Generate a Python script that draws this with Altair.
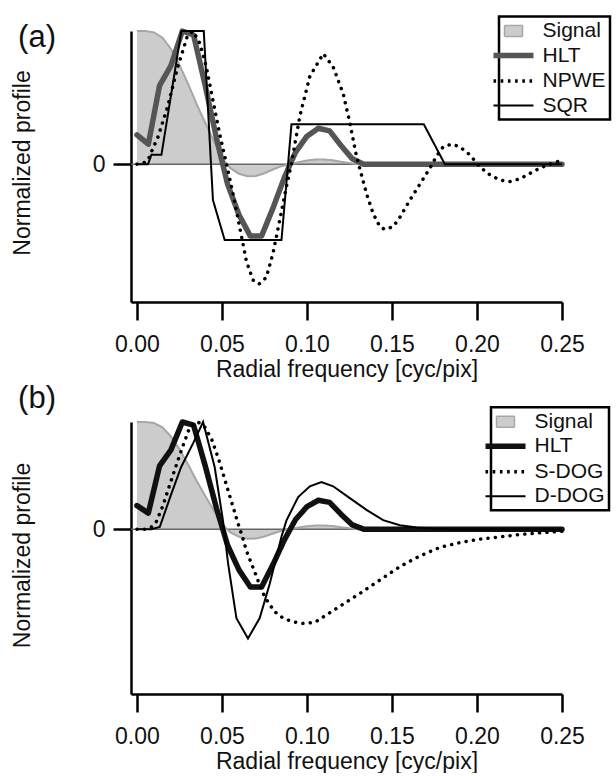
import altair as alt
import pandas as pd

FONT = "Liberation Sans"
INK = "#111111"

# ---------------- data ----------------
FREQ_TICKS = [0.00, 0.05, 0.10, 0.15, 0.20, 0.25]
Y_TICKS = [0]

SIGNAL_F = [0.000, 0.005, 0.010, 0.015, 0.020, 0.025, 0.030, 0.035, 0.040, 0.045,
            0.050, 0.055, 0.060, 0.065, 0.070, 0.075, 0.080, 0.085, 0.090, 0.095,
            0.100, 0.105, 0.110, 0.115, 0.120, 0.125, 0.130, 0.250]
SIGNAL_V = [1.000, 1.000, 0.990, 0.950, 0.865, 0.745, 0.605, 0.455, 0.315, 0.180,
            0.045, -0.030, -0.072, -0.090, -0.088, -0.068, -0.040, -0.015, 0.000, 0.015,
            0.028, 0.035, 0.035, 0.030, 0.018, 0.008, 0.000, 0.000]

HLT_F = [0.0000, 0.0067, 0.0133, 0.0200, 0.0267, 0.0333, 0.0400, 0.0467, 0.0533, 0.0600,
         0.0667, 0.0733, 0.0800, 0.0867, 0.0933, 0.1000, 0.1067, 0.1133, 0.1200, 0.1267,
         0.1333, 0.2500]
HLT_V = [0.22, 0.15, 0.59, 0.74, 1.00, 0.97, 0.60, 0.20, -0.15, -0.38,
         -0.54, -0.54, -0.33, -0.10, 0.09, 0.21, 0.27, 0.25, 0.14, 0.04,
         0.00, 0.00]

NPWE_F = [0.0000, 0.0040, 0.0065, 0.0094, 0.0124, 0.0180, 0.0240, 0.0296, 0.0330, 0.0369,
          0.0408, 0.0447, 0.0486, 0.0527, 0.0566, 0.0605, 0.0644, 0.0683, 0.0718, 0.0761,
          0.0800, 0.0840, 0.0879, 0.0908, 0.0958, 0.1017, 0.1096, 0.1154, 0.1213, 0.1252,
          0.1291, 0.1350, 0.1389, 0.1429, 0.1458, 0.1507, 0.1546, 0.1605, 0.1664, 0.1723,
          0.1762, 0.1801, 0.1850, 0.1900, 0.1958, 0.2017, 0.2076, 0.2135, 0.2194, 0.2253,
          0.2311, 0.2370, 0.2429, 0.2500]
NPWE_V = [0.00, 0.01, 0.03, 0.12, 0.205, 0.43, 0.73, 0.96, 1.00, 0.91,
          0.73, 0.48, 0.23, 0.00, -0.23, -0.48, -0.73, -0.87, -0.90, -0.85,
          -0.67, -0.42, -0.17, 0.00, 0.36, 0.66, 0.83, 0.73, 0.53, 0.31,
          0.06, -0.22, -0.37, -0.47, -0.49, -0.47, -0.40, -0.27, -0.15, -0.03,
          0.06, 0.13, 0.15, 0.13, 0.07, -0.02, -0.08, -0.12, -0.13, -0.11,
          -0.07, -0.03, 0.00, 0.03]

SQR_F = [0.0000, 0.0065, 0.0085, 0.0144, 0.0261, 0.0393, 0.0447, 0.0516, 0.0850, 0.0909,
         0.1687, 0.1811, 0.2500]
SQR_V = [0.00, 0.00, 0.07, 0.07, 1.00, 1.00, -0.27, -0.57, -0.57, 0.30,
         0.30, 0.00, 0.00]

SDOG_F = [0.0000, 0.0050, 0.0085, 0.0114, 0.0153, 0.0192, 0.0232, 0.0271, 0.0310, 0.0359,
          0.0400, 0.0438, 0.0477, 0.0506, 0.0536, 0.0565, 0.0595, 0.0614, 0.0644, 0.0673,
          0.0703, 0.0732, 0.0771, 0.0810, 0.0859, 0.0909, 0.0968, 0.1046, 0.1075, 0.1193,
          0.1311, 0.1428, 0.1546, 0.1664, 0.1782, 0.1900, 0.2017, 0.2135, 0.2253, 0.2370,
          0.2500]
SDOG_V = [0.00, 0.00, 0.02, 0.07, 0.22, 0.41, 0.60, 0.78, 0.95, 1.00,
          0.95, 0.845, 0.67, 0.52, 0.36, 0.21, 0.05, -0.04, -0.20, -0.32,
          -0.44, -0.57, -0.68, -0.77, -0.83, -0.86, -0.88, -0.87, -0.84, -0.72,
          -0.60, -0.475, -0.35, -0.25, -0.17, -0.125, -0.093, -0.072, -0.05, -0.034,
          -0.02]

DDOG_F = [0.0000, 0.0085, 0.0134, 0.0200, 0.0260, 0.0330, 0.0389, 0.0457, 0.0506, 0.0536,
          0.0585, 0.0653, 0.0722, 0.0781, 0.0850, 0.0879, 0.0948, 0.1017, 0.1085, 0.1154,
          0.1252, 0.1350, 0.1448, 0.1546, 0.1645, 0.1740, 0.1850, 0.2500]
DDOG_V = [0.00, 0.00, 0.02, 0.32, 0.58, 0.80, 1.00, 0.58, 0.08, -0.32,
          -0.83, -1.02, -0.83, -0.51, -0.07, 0.08, 0.30, 0.40, 0.44, 0.40,
          0.29, 0.18, 0.084, 0.037, 0.016, 0.005, 0.00, 0.00]

NAMES_A = ["Signal", "HLT", "NPWE", "SQR"]
NAMES_B = ["Signal", "HLT", "S-DOG", "D-DOG"]

# ---------------- styling constants ----------------
W = 431
X_DOMAIN = [-0.0035, 0.25]
SIGNAL_FILL = "#cccccc"
SIGNAL_EDGE = "#a6a6a6"
DOT_DASH = [0.1, 7.3]

KEY_BOX = "M-1.8,-1.1H1.8V1.1H-1.8Z"
KEY_LINE = "M-4,0H4"
KEY_SOLID = [1, 0]
KEY_DOTS = [2.6, 4.6]

LEGEND_CFG = {}
try:
    alt.LegendConfig(strokeWidth=2.5).to_dict(validate=True)
    LEGEND_CFG = {"strokeWidth": 2.5}
except Exception:
    LEGEND_CFG = {}


def frame(fs, vs, name):
    return pd.DataFrame({"f": fs, "v": vs, "series": [name] * len(fs)})


def make_legend(lx, ly):
    return alt.Legend(
        title=None, orient="none", legendX=lx, legendY=ly,
        symbolSize=100, symbolOffset=0, labelOffset=18.5,
        labelFont=FONT, labelFontSize=21, labelColor=INK,
        padding=4, rowPadding=2.5, strokeColor="#000000",
    )


def make_panel(tag, tag_y, height, y_domain, title_y, names, hlt_color,
               dotted_name, dotted_f, dotted_v, thin_name, thin_f, thin_v,
               legend_x, legend_y, anchor):
    xs = alt.Scale(domain=X_DOMAIN, nice=False, zero=False)
    ys = alt.Scale(domain=y_domain, nice=False, zero=False)
    x_axis = alt.Axis(
        values=FREQ_TICKS, format=".2f", title="Radial frequency [cyc/pix]",
        grid=False, domainColor="#000000", domainWidth=2.5, tickColor="#000000",
        tickWidth=2.5, tickSize=18, labelFontSize=23, labelColor=INK,
        labelPadding=13, labelFlush=False, labelOverlap=False, labelBound=False,
        titleFontSize=23, titleFontWeight="normal", titleColor=INK,
        titleY=74, titleBaseline="alphabetic",
    )
    y_axis = alt.Axis(
        values=Y_TICKS, format=".0f", title="Normalized profile",
        grid=False, domainColor="#000000", domainWidth=2.5, tickColor="#000000",
        tickWidth=2.5, tickSize=18, labelFontSize=23, labelColor=INK,
        labelPadding=8, labelFlush=False,
        titleFontSize=23, titleFontWeight="normal", titleColor=INK,
        titleX=-109, titleY=title_y, titleAlign="center", titleBaseline="middle",
    )
    X = alt.X("f:Q", scale=xs, axis=x_axis)
    Y = alt.Y("v:Q", scale=ys, axis=y_axis)

    sig = frame(SIGNAL_F, SIGNAL_V, "Signal")
    area = alt.Chart(sig).mark_area(color=SIGNAL_FILL, opacity=1).encode(x=X, y=Y)
    zero = (alt.Chart(pd.DataFrame({"v": [0.0]}))
            .mark_rule(color="#666666", strokeWidth=1.5)
            .encode(x=alt.value(0), x2=alt.value(W), y=Y))
    sig_line = alt.Chart(sig).mark_line(color=SIGNAL_EDGE, strokeWidth=2).encode(x=X, y=Y)
    hlt = (alt.Chart(frame(HLT_F, HLT_V, "HLT"))
           .mark_line(color=hlt_color, strokeWidth=5.5, strokeJoin="round", strokeCap="round")
           .encode(x=X, y=Y))
    thin = (alt.Chart(frame(thin_f, thin_v, thin_name))
            .mark_line(color="#000000", strokeWidth=2)
            .encode(x=X, y=Y))
    dots = (alt.Chart(frame(dotted_f, dotted_v, dotted_name))
            .mark_line(color="#000000", strokeWidth=3.5, strokeDash=DOT_DASH, strokeCap="round")
            .encode(x=X, y=Y))
    # legend-only layer: no rows; explicit domains give the four legend entries
    leg = make_legend(legend_x, legend_y)
    empty = pd.DataFrame({"f": pd.Series([], dtype=float),
                          "v": pd.Series([], dtype=float),
                          "series": pd.Series([], dtype=str)})
    key = (alt.Chart(empty)
           .mark_point(filled=True, opacity=1, size=100, strokeJoin="round", strokeCap="butt")
           .encode(x=X, y=Y,
                   shape=alt.Shape("series:N", legend=leg, scale=alt.Scale(
                       domain=names, range=[KEY_BOX, KEY_LINE, KEY_LINE, KEY_LINE])),
                   stroke=alt.Stroke("series:N", legend=leg, scale=alt.Scale(
                       domain=names, range=[SIGNAL_EDGE, hlt_color, "#000000", "#000000"])),
                   fill=alt.Fill("series:N", legend=leg, scale=alt.Scale(
                       domain=names, range=[SIGNAL_FILL, "transparent", "transparent", "transparent"])),
                   strokeDash=alt.StrokeDash("series:N", legend=leg, scale=alt.Scale(
                       domain=names, range=[KEY_SOLID, KEY_SOLID, KEY_DOTS, KEY_SOLID])),
                   strokeWidth=alt.StrokeWidth("series:N", legend=leg, scale=alt.Scale(
                       type="ordinal", domain=names, range=[1.5, 5.5, 3.5, 2]))))
    label = (alt.Chart(pd.DataFrame({"t": [tag]}))
             .mark_text(font=FONT, fontSize=31, color=INK, align="center", baseline="middle")
             .encode(x=alt.value(-94), y=alt.value(tag_y), text="t:N"))
    layers = [area, zero, sig_line, hlt, thin, dots, key, label]
    if anchor:
        layers.append(alt.Chart(pd.DataFrame({"a": [0]}))
                      .mark_rule(strokeWidth=0.01, strokeOpacity=0)
                      .encode(x=alt.value(-131), x2=alt.value(0), y=alt.value(-31)))
    return alt.layer(*layers).properties(width=W, height=height)


top = make_panel("(a)", 6.5, 271, [-1.035, 1.0], 131.5, NAMES_A, "#555555",
                 "NPWE", NPWE_F, NPWE_V, "SQR", SQR_F, SQR_V, 368, -14.5, True)
bottom = make_panel("(b)", -23, 272, [-1.538, 1.0], 133, NAMES_B, "#111111",
                    "S-DOG", SDOG_F, SDOG_V, "D-DOG", DDOG_F, DDOG_V, 360, -14.8, False)

chart = (alt.vconcat(top, bottom, spacing=120, bounds="flush")
         .resolve_scale(x="independent", y="independent", stroke="independent",
                        fill="independent", strokeDash="independent",
                        strokeWidth="independent", shape="independent")
         .resolve_legend(stroke="independent", fill="independent",
                         strokeDash="independent", strokeWidth="independent",
                         shape="independent")
         .properties(padding=0, background="white")
         .configure(font=FONT)
         .configure_legend(**LEGEND_CFG)
         .configure_view(stroke=None))

chart.save("out.html", embed_options={"renderer": "svg", "actions": False})
